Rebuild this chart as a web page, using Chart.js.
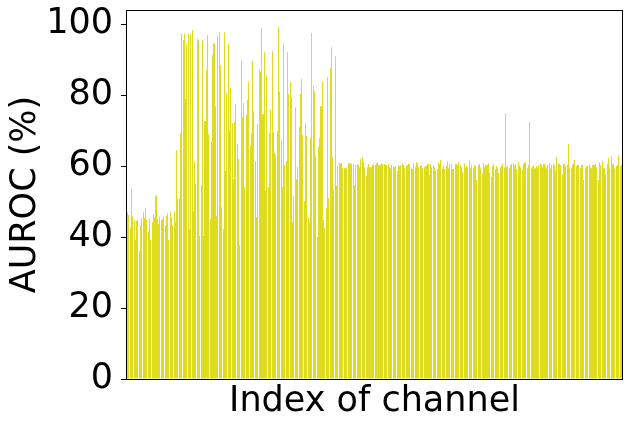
<!DOCTYPE html>
<html>
<head>
<meta charset="utf-8">
<script src="https://cdn.jsdelivr.net/npm/chart.js@4.4.1/dist/chart.umd.min.js"></script>
<style>
  html, body { margin: 0; padding: 0; background: #fff; }
  canvas { display: block; }
</style>
</head>
<body>
<canvas id="auroc" width="631" height="429"></canvas>
<script>
// AUROC per channel, left to right
const aurocLow = [46.9, 46.2, 42.7, 53.7, 45.9, 44.8, 39.2, 44.5, 44.8, 36.1, 43.3, 45.3, 47.0, 45.4, 48.2,
    44.8, 41.7, 45.1, 39.2, 44.2, 46.4, 45.5, 51.7, 45.2, 43.7, 45.8, 44.8, 45.0, 45.8, 43.3, 45.9, 46.7,
    39.2, 47.0, 45.5, 43.3, 47.3, 44.2, 64.5, 50.9, 50.9];

const aurocHighA = [69.2, 97.4, 95.5, 97.4, 78.9, 94.4, 97.4, 42.3, 97.2, 98.3, 47.3, 61.4, 55.2, 95.9, 95.5,
    40.3, 54.6, 95.5, 40.3, 72.7, 87.0, 96.9, 69.0, 45.1, 66.8, 91.3, 94.6, 76.9, 45.9, 96.9, 97.7, 88.5,
    48.5, 42.3, 97.7, 58.6, 80.6, 94.4, 70.1, 82.0, 72.1, 56.3, 72.4, 77.5, 66.2, 62.0, 37.7, 89.9, 73.8,
    77.7, 54.1, 74.4, 78.6, 83.7, 65.9, 69.3, 89.6, 75.5, 61.4, 45.6, 71.8];

const aurocHighB = [87.3, 86.5, 98.9, 74.6, 92.1, 53.2, 85.6, 54.1, 69.3, 75.8, 92.4, 69.6, 63.7, 63.1, 69.9,
    99.2, 81.1, 67.3, 54.1, 94.4, 60.3, 61.4, 92.1, 80.3, 83.7, 79.4, 44.2, 51.5, 76.6, 56.3, 59.7, 71.0,
    80.3, 84.5, 68.7, 50.1, 72.1, 68.5, 45.6, 44.2, 67.9, 97.5, 82.5, 81.1, 62.8, 40.0, 65.4, 67.9, 76.9,
    83.7, 44.8, 42.5, 48.2, 85.1, 51.0, 87.6, 93.5, 62.5, 53.5, 91.0, 54.4, 60.0];

const aurocFlatA = [60.8, 60.8, 60.8, 59.4, 59.5, 59.4, 59.4, 60.8, 60.8, 60.8, 60.6, 60.6, 54.6, 60.3, 60.6,
    60.3, 59.7, 62.0, 62.5, 61.1, 59.7, 57.2, 59.7, 60.6, 59.7, 59.7, 60.3, 60.8, 60.3, 60.8, 61.1, 60.3,
    60.3, 60.8, 60.6, 60.6, 60.3, 60.3, 60.6, 59.7, 59.4, 60.3, 60.0, 59.7, 60.0, 58.6, 60.3, 60.0, 60.3,
    60.8, 60.3, 59.4, 60.0, 60.3, 60.6, 60.6, 59.4, 59.2, 60.8, 59.7, 61.1, 60.8, 59.7, 60.0, 60.3, 59.4,
    59.7, 60.0, 60.0, 60.6, 57.5, 60.6, 59.7];

const aurocFlatB = [60.3, 59.7, 58.6, 59.2, 61.1, 60.6, 61.7, 59.4, 60.0, 59.2, 60.0, 61.4, 59.4, 60.6, 60.6,
    59.2, 59.2, 60.6, 60.6, 60.3, 61.1, 60.3, 59.7, 58.3, 60.8, 59.7, 60.0, 59.7, 61.7, 59.4, 60.3, 59.4,
    60.3, 60.0, 56.1, 60.3, 60.6, 59.4, 58.0, 60.8, 59.7, 60.3, 60.3, 60.8, 58.3, 56.9, 60.0, 60.6, 59.2,
    60.0, 59.4, 58.0, 59.7, 60.0, 60.6, 59.7, 74.9, 59.7, 60.0, 59.4, 60.3, 60.6, 60.8, 60.0, 60.6, 59.2,
    61.1, 60.0, 59.7, 58.9, 60.6, 61.1];

const aurocFlatC = [61.1, 59.4, 60.3, 72.4, 59.4, 60.0, 60.0, 59.4, 60.0, 59.4, 60.3, 60.8, 60.3, 59.7, 60.6,
    60.0, 59.4, 60.3, 60.8, 59.4, 60.3, 60.6, 60.3, 58.6, 62.5, 60.8, 60.6, 60.3, 57.7, 60.6, 60.6, 60.0,
    60.3, 66.2, 59.4, 59.4, 60.3, 60.8, 61.7, 60.0, 60.3, 60.3, 59.4, 60.3, 60.3, 56.1, 59.4, 60.0, 60.0,
    60.3, 59.7, 59.4, 60.3, 60.3, 60.6, 59.7, 56.1, 61.1, 60.3, 61.4, 59.4, 59.4, 57.7, 60.6, 62.3, 59.4,
    62.8, 60.3, 60.8, 59.4, 60.0, 60.3, 63.1, 60.0, 60.3];

const yTicks = [0, 20, 40, 60, 80, 100];
const yMax = 104;

const auroc = [...aurocLow, ...aurocHighA, ...aurocHighB, ...aurocFlatA, ...aurocFlatB, ...aurocFlatC];
const channels = auroc.map((_, i) => i);

const FONT = 'DejaVu Sans';
const SIZE = 35;

// matplotlib style box round the axes
const frame = {
    id: 'frame',
    afterDraw(chart) {
        const { ctx, chartArea: a } = chart;
        ctx.save();
        ctx.strokeStyle = '#000';
        ctx.lineWidth = 1;
        ctx.strokeRect(Math.round(a.left) - 0.5, Math.round(a.top) + 0.5,
            Math.round(a.right - a.left) + 1, Math.round(a.bottom - a.top));
        ctx.restore();
    }
};

// snap the thin bars to whole pixels like agg does
const snapBars = {
    id: 'snapBars',
    beforeDatasetsDraw(chart) {
        chart.getDatasetMeta(0).data.forEach(bar => {
            const l = Math.round(bar.x - bar.width / 2);
            const r = Math.max(l + 1, Math.round(bar.x + bar.width / 2));
            bar.x = (l + r) / 2;
            bar.width = r - l;
        });
    }
};

new Chart(document.getElementById('auroc'), {
    type: 'bar',
    data: {
        labels: channels,
        datasets: [{
            data: auroc,
            backgroundColor: 'rgb(223, 220, 32)',
            borderWidth: 0,
            barPercentage: 0.8,
            categoryPercentage: 1.0
        }]
    },
    options: {
        responsive: false,
        animation: false,
        devicePixelRatio: 1,
        layout: { padding: { top: 10, right: 9, left: 0, bottom: 0 } },
        plugins: { legend: { display: false }, tooltip: { enabled: false } },
        scales: {
            x: {
                ticks: { display: false },
                grid: { display: false },
                border: { display: false },
                title: {
                    display: true,
                    text: 'Index of channel',
                    color: '#000',
                    font: { family: FONT, size: SIZE },
                    padding: { top: 0, bottom: 6 }
                },
                afterFit: scale => {
                    scale.height = 50;
                    scale.paddingLeft = 0;
                    scale.paddingRight = 0;
                }
            },
            y: {
                min: 0,
                max: yMax,
                afterBuildTicks: scale => {
                    scale.ticks = yTicks.map(v => ({ value: v }));
                },
                ticks: {
                    color: '#000',
                    font: { family: FONT, size: SIZE },
                    padding: 8
                },
                grid: {
                    display: true,
                    drawOnChartArea: false,
                    drawTicks: true,
                    tickLength: 6,
                    tickWidth: 1,
                    color: '#000'
                },
                border: { display: false },
                title: {
                    display: true,
                    text: 'AUROC (%)',
                    color: '#000',
                    font: { family: FONT, size: SIZE },
                    padding: { top: 5, bottom: 0 }
                },
                afterFit: scale => {
                    scale.width = 127;
                    scale.paddingTop = 0;
                    scale.paddingBottom = 0;
                }
            }
        }
    },
    plugins: [frame, snapBars]
});
</script>
</body>
</html>
